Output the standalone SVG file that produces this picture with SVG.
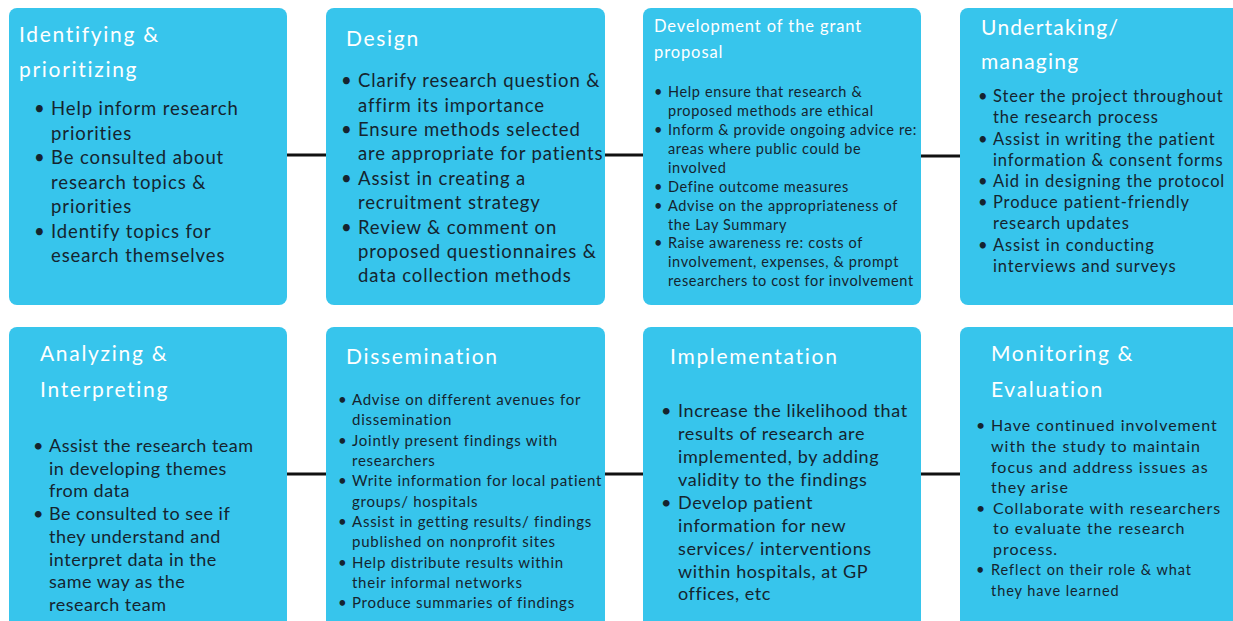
<svg xmlns="http://www.w3.org/2000/svg" width="1233" height="621" viewBox="0 0 1233 621">
<style>
.box{fill:#37c5ec}
.t{font-family:Lato,"Open Sans",sans-serif;fill:#ffffff;font-size:21px;letter-spacing:1.7px}
.t.s{font-size:16.5px;letter-spacing:0.9px}
.t.u{letter-spacing:1.25px}
.b{font-family:Lato,"Open Sans",sans-serif;fill:#15242f}
.c{stroke:#111;stroke-width:3;fill:none}
</style>
<rect width="1233" height="621" fill="#ffffff"/>
<g id="connectors">
<line class="c" x1="287" y1="155" x2="326" y2="155"/>
<line class="c" x1="605" y1="155" x2="643" y2="155"/>
<line class="c" x1="921" y1="156" x2="960" y2="156"/>
<line class="c" x1="287" y1="474" x2="326" y2="474"/>
<line class="c" x1="605" y1="474" x2="643" y2="474"/>
<line class="c" x1="921" y1="474" x2="960" y2="474"/>
</g>
<g id="n1">
<rect class="box" x="9" y="8" width="278" height="297" rx="8"/>
<text class="t" x="19" y="42">Identifying &amp;</text>
<text class="t" x="19" y="77">prioritizing</text>
<g class="b" font-size="18.5" letter-spacing="0.9">
<text x="34" y="115">•</text><text x="51" y="115">Help inform research</text>
<text x="51" y="139.5">priorities</text>
<text x="34" y="164">•</text><text x="51" y="164">Be consulted about</text>
<text x="51" y="188.5">research topics &amp;</text>
<text x="51" y="213">priorities</text>
<text x="34" y="237.5">•</text><text x="51" y="237.5">Identify topics for</text>
<text x="51" y="262">esearch themselves</text>
</g>
</g>
<g id="n2">
<rect class="box" x="326" y="8" width="279" height="297" rx="8"/>
<text class="t" x="346" y="46">Design</text>
<g class="b" font-size="18.5" letter-spacing="0.86">
<text x="341" y="87">•</text><text x="358" y="87">Clarify research question &amp;</text>
<text x="358" y="111.5">affirm its importance</text>
<text x="341" y="136">•</text><text x="358" y="136">Ensure methods selected</text>
<text x="358" y="160">are appropriate for patients</text>
<text x="341" y="184.5">•</text><text x="358" y="184.5">Assist in creating a</text>
<text x="358" y="209">recruitment strategy</text>
<text x="341" y="233.5">•</text><text x="358" y="233.5">Review &amp; comment on</text>
<text x="358" y="258">proposed questionnaires &amp;</text>
<text x="358" y="282">data collection methods</text>
</g>
</g>
<g id="n3">
<rect class="box" x="643" y="8" width="278" height="297" rx="8"/>
<text class="t s" x="654" y="32">Development of the grant</text>
<text class="t s" x="654" y="58">proposal</text>
<g class="b" font-size="14.5" letter-spacing="0.63">
<text x="654" y="97">•</text><text x="668" y="97">Help ensure that research &amp;</text>
<text x="668" y="116">proposed methods are ethical</text>
<text x="654" y="135">•</text><text x="668" y="135">Inform &amp; provide ongoing advice re:</text>
<text x="668" y="154">areas where public could be</text>
<text x="668" y="172.5">involved</text>
<text x="654" y="191.5">•</text><text x="668" y="191.5">Define outcome measures</text>
<text x="654" y="210.5">•</text><text x="668" y="210.5">Advise on the appropriateness of</text>
<text x="668" y="229.5">the Lay Summary</text>
<text x="654" y="248">•</text><text x="668" y="248">Raise awareness re: costs of</text>
<text x="668" y="267">involvement, expenses, &amp; prompt</text>
<text x="668" y="286">researchers to cost for involvement</text>
</g>
</g>
<g id="n4">
<rect class="box" x="960" y="8" width="290" height="297" rx="8"/>
<text class="t u" x="981" y="35">Undertaking/</text>
<text class="t u" x="981" y="69">managing</text>
<g class="b" font-size="16.5" letter-spacing="0.86">
<text x="978" y="102">•</text><text x="993" y="102">Steer the project throughout</text>
<text x="993" y="123">the research process</text>
<text x="978" y="144.5">•</text><text x="993" y="144.5">Assist in writing the patient</text>
<text x="993" y="165.5">information &amp; consent forms</text>
<text x="978" y="187">•</text><text x="993" y="187">Aid in designing the protocol</text>
<text x="978" y="208">•</text><text x="993" y="208">Produce patient-friendly</text>
<text x="993" y="229">research updates</text>
<text x="978" y="250.5">•</text><text x="993" y="250.5">Assist in conducting</text>
<text x="993" y="271.5">interviews and surveys</text>
</g>
</g>
<g id="n5">
<rect class="box" x="9" y="327" width="278" height="310" rx="8"/>
<text class="t" x="40" y="361">Analyzing &amp;</text>
<text class="t" x="40" y="397">Interpreting</text>
<g class="b" font-size="18" letter-spacing="0.5">
<text x="33" y="452">•</text><text x="49" y="452">Assist the research team</text>
<text x="49" y="474.5">in developing themes</text>
<text x="49" y="497">from data</text>
<text x="33" y="520">•</text><text x="49" y="520">Be consulted to see if</text>
<text x="49" y="543">they understand and</text>
<text x="49" y="565.5">interpret data in the</text>
<text x="49" y="588">same way as the</text>
<text x="49" y="611">research team</text>
</g>
</g>
<g id="n6">
<rect class="box" x="326" y="327" width="279" height="310" rx="8"/>
<text class="t" x="346" y="364">Dissemination</text>
<g class="b" font-size="15" letter-spacing="0.74">
<text x="338" y="405">•</text><text x="352" y="405">Advise on different avenues for</text>
<text x="352" y="425">dissemination</text>
<text x="338" y="445.5">•</text><text x="352" y="445.5">Jointly present findings with</text>
<text x="352" y="466">researchers</text>
<text x="338" y="486">•</text><text x="352" y="486">Write information for local patient</text>
<text x="352" y="506.5">groups/ hospitals</text>
<text x="338" y="527">•</text><text x="352" y="527">Assist in getting results/ findings</text>
<text x="352" y="547">published on nonprofit sites</text>
<text x="338" y="567.5">•</text><text x="352" y="567.5">Help distribute results within</text>
<text x="352" y="588">their informal networks</text>
<text x="338" y="608">•</text><text x="352" y="608">Produce summaries of findings</text>
</g>
</g>
<g id="n7">
<rect class="box" x="643" y="327" width="278" height="310" rx="8"/>
<text class="t" x="670" y="364">Implementation</text>
<g class="b" font-size="18" letter-spacing="0.6">
<text x="661" y="417">•</text><text x="678" y="417">Increase the likelihood that</text>
<text x="678" y="440">results of research are</text>
<text x="678" y="463">implemented, by adding</text>
<text x="678" y="486">validity to the findings</text>
<text x="661" y="508.5">•</text><text x="678" y="508.5">Develop patient</text>
<text x="678" y="531.5">information for new</text>
<text x="678" y="554.5">services/ interventions</text>
<text x="678" y="577.5">within hospitals, at GP</text>
<text x="678" y="600">offices, etc</text>
</g>
</g>
<g id="n8">
<rect class="box" x="960" y="327" width="290" height="310" rx="8"/>
<text class="t" x="991" y="361">Monitoring &amp;</text>
<text class="t" x="991" y="397">Evaluation</text>
<g class="b" font-size="16" letter-spacing="1">
<text x="976" y="431">•</text><text x="991" y="431">Have continued involvement</text>
<text x="991" y="452">with the study to maintain</text>
<text x="991" y="472.5">focus and address issues as</text>
<text x="991" y="493">they arise</text>
<text x="976" y="513.5">•</text><text x="993" y="513.5">Collaborate with researchers</text>
<text x="993" y="534">to evaluate the research</text>
<text x="993" y="554.5">process.</text>
</g>
<g class="b" font-size="14.5" letter-spacing="0.93">
<text x="976" y="575">•</text><text x="991" y="575">Reflect on their role &amp; what</text>
<text x="991" y="596">they have learned</text>
</g>
</g>
</svg>
